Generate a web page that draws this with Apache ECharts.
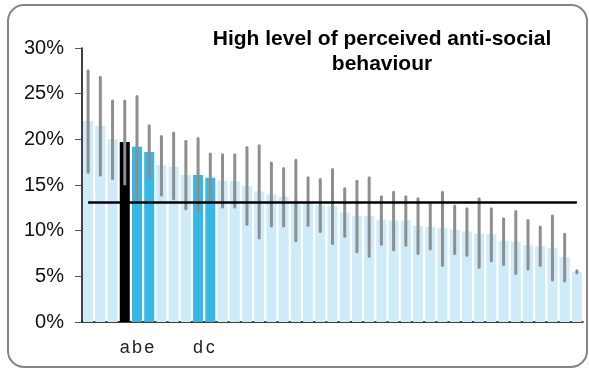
<!DOCTYPE html>
<html>
<head>
<meta charset="utf-8">
<script src="https://cdn.jsdelivr.net/npm/echarts@6/dist/echarts.min.js"></script>
<style>
  html, body { margin: 0; padding: 0; background: #fff; }
  #chart { width: 589px; height: 373px; }
</style>
</head>
<body>
<div id="chart"></div>
<script>
// areas, sorted by share (%)
var labels = ['', '', '', 'a', 'b', 'e', '', '', '', 'd', 'c', '', '', '', '', '', '', '', '', '', '',
              '', '', '', '', '', '', '', '', '', '', '', '', '', '', '', '', '', '', '', ''];
// 0 = other area, 1 = highlighted area, 2 = selected area
var highlight = [0, 0, 0, 2, 1, 1, 0, 0, 0, 1, 1, 0, 0, 0, 0, 0, 0, 0, 0, 0, 0,
                 0, 0, 0, 0, 0, 0, 0, 0, 0, 0, 0, 0, 0, 0, 0, 0, 0, 0, 0, 0];
var values = [22.0, 21.5, 20.0, 19.7, 19.2, 18.6, 17.2, 17.0, 16.1, 16.1, 15.8, 15.5, 15.4, 14.9,
              14.3, 14.0, 13.7, 13.1, 13.0, 12.8, 12.7, 12.0, 11.6, 11.6, 11.2, 11.1, 11.1, 10.5,
              10.4, 10.3, 10.1, 9.9, 9.7, 9.6, 8.9, 8.8, 8.4, 8.3, 8.1, 7.1, 5.5];
var upper = [27.5, 26.8, 24.2, 24.2, 24.7, 21.5, 20.3, 20.7, 19.8, 20.1, 18.4, 18.3, 18.3, 19.1,
             19.3, 17.4, 16.8, 17.7, 15.8, 15.6, 16.7, 14.6, 15.4, 15.8, 13.7, 14.2, 13.7, 13.5,
             12.9, 14.2, 12.7, 12.4, 13.5, 12.4, 11.3, 12.1, 11.1, 10.4, 11.6, 9.6, 5.6];
var lower = [16.4, 16.1, 15.7, 15.1, 13.5, 15.8, 13.9, 13.5, 12.4, 12.1, 13.3, 12.6, 12.6, 10.7,
             9.2, 10.5, 10.5, 8.9, 10.6, 9.9, 8.6, 9.4, 7.7, 7.2, 8.5, 7.9, 8.4, 7.5,
             8.0, 6.2, 7.5, 7.3, 6.0, 6.7, 6.3, 5.3, 5.8, 6.2, 4.6, 4.5, 5.4];
var average = 13.1;
var yTicks = [0, 5, 10, 15, 20, 25, 30];

var colorList = ['#cdebf8', '#35b8e6', '#000000'];
var cats = labels.map(function (l, i) { return 'c' + i; });

var chart = echarts.init(document.getElementById('chart'));
var option = {
    animation: false,
    title: {
        text: 'High level of perceived anti-social\nbehaviour',
        left: 377,
        top: 22,
        textAlign: 'center',
        textStyle: {
            fontFamily: 'Liberation Sans, Arial',
            fontWeight: 'bold',
            fontSize: 21,
            lineHeight: 25,
            color: '#000'
        }
    },
    graphic: [{
        type: 'rect',
        shape: { x: 8, y: 5, width: 579, height: 362, r: 16 },
        style: { fill: null, stroke: '#858585', lineWidth: 2 },
        silent: true
    }],
    grid: { left: 82, right: 6, top: 48, bottom: 51 },
    xAxis: {
        type: 'category',
        data: cats,
        axisLine: { lineStyle: { color: '#000', width: 1.5 } },
        axisTick: { inside: true, alignWithLabel: true, length: 2, lineStyle: { color: '#999' } },
        axisLabel: {
            interval: 0,
            margin: 17,
            fontFamily: 'Liberation Sans, Arial',
            fontSize: 18,
            color: '#222',
            formatter: function (v, i) { return labels[i]; }
        }
    },
    yAxis: {
        type: 'value',
        min: yTicks[0],
        max: yTicks[yTicks.length - 1],
        interval: 5,
        splitLine: { show: false },
        axisLine: { show: true, lineStyle: { color: '#000', width: 1.5 } },
        axisTick: { show: true, length: 7, lineStyle: { color: '#555' } },
        axisLabel: {
            margin: 18,
            fontFamily: 'Liberation Sans, Arial',
            fontSize: 20,
            color: '#111',
            formatter: '{value}%'
        }
    },
    series: [{
        type: 'bar',
        barCategoryGap: '18%',
        data: values.map(function (v, i) {
            return { value: v, itemStyle: { color: colorList[highlight[i]] } };
        })
    }, {
        type: 'custom',
        z: 5,
        data: values.map(function (v, i) { return [i, lower[i], upper[i]]; }),
        renderItem: function (params, api) {
            var lo = api.coord([api.value(0), api.value(1)]);
            var hi = api.coord([api.value(0), api.value(2)]);
            return {
                type: 'line',
                shape: { x1: lo[0], y1: lo[1], x2: hi[0], y2: hi[1] },
                style: { stroke: '#8e8e8e', lineWidth: 3, lineCap: 'round' }
            };
        },
        markLine: {
            silent: true,
            symbol: 'none',
            z: 10,
            label: { show: false },
            lineStyle: { color: '#000', width: 2.5, type: 'solid' },
            data: [[{ coord: [0, average] }, { coord: [values.length - 1, average] }]]
        }
    }]
};
chart.setOption(option);
</script>
</body>
</html>
